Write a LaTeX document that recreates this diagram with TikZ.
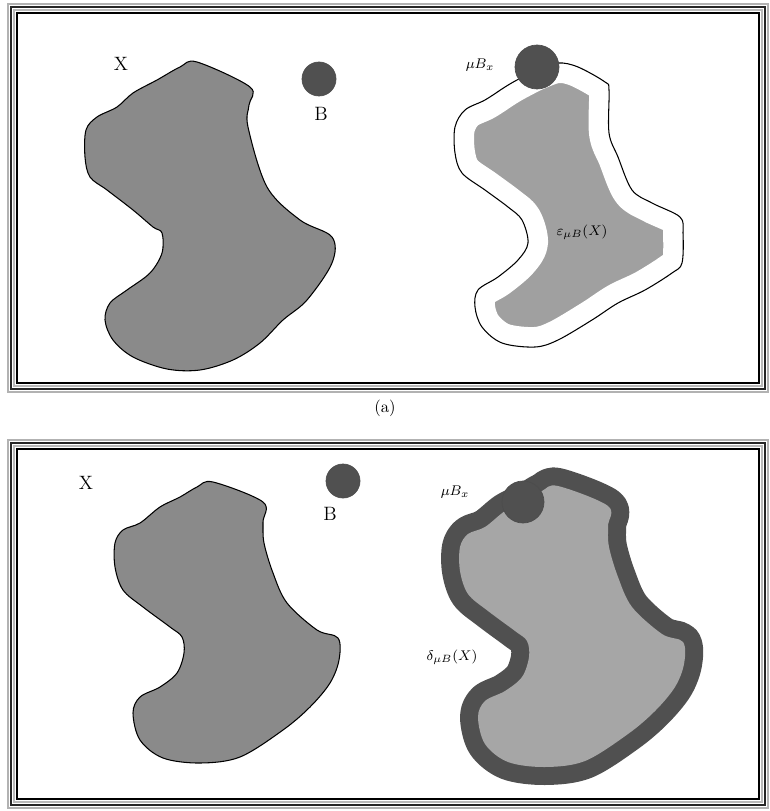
\documentclass[tikz,border=0pt]{standalone}
\usepackage{tikz}
\usetikzlibrary{positioning,calc}
\usepackage{amsmath}
\usepackage{xcolor}

\definecolor{setgray}{RGB}{138,138,138}
\definecolor{ballgray}{RGB}{80,80,80}
\definecolor{erogray}{RGB}{160,160,160}
\definecolor{dilgray}{RGB}{166,166,166}

% outline of X, top panel
\def\shapeXa{(197,62) (250,87) (249,105) (248,127) (267,187) (300,220) (332,237) (332,263) (307,300) (283,320) (260,343) (233,360) (200,370) (167,369) (133,357) (113,340) (105,320) (110,303) (127,290) (150,273) (162,253) (162,233) (153,227) (133,210) (107,190) (90,177) (85,157) (86,130) (97,117) (117,107) (133,93) (157,80) (180,67)}
% outline of X, right of top panel
\def\shapeXb{(558,63) (578,67) (605,82) (609,90) (609,133) (618,157) (632,190) (652,203) (680,217) (683,233) (682,263) (672,273) (645,290) (618,303) (592,320) (558,340) (535,347) (502,343) (482,327) (475,307) (478,290) (498,277) (518,260) (528,243) (522,220) (508,207) (485,190) (462,173) (455,153) (455,127) (465,110) (485,100) (505,87) (517,80) (537,70)}
% outline of X, bottom panel
\def\shapeXc{(213,482) (263,502) (263,522) (264,543) (273,573) (287,603) (317,630) (338,638) (339,660) (330,683) (310,707) (283,730) (240,757) (200,763) (163,758) (140,740) (133,713) (140,697) (160,687) (177,673) (184,653) (182,637) (170,627) (143,607) (123,590) (115,567) (115,543) (123,530) (140,523) (160,507) (180,497) (197,487)}

\begin{document}
\begin{tikzpicture}[
      x=0.02cm, y=-0.02cm,
      setX/.style={fill=setgray, draw=black, line width=0.6pt},
      ball/.style={circle, fill=ballgray, draw=black!70, line width=0.4pt, inner sep=0pt},
      lbl/.style={font=\fontsize{11}{13}\selectfont, inner sep=1pt},
      small/.style={font=\fontsize{8.5}{10}\selectfont, inner sep=1pt},
      frm/.style={line width=2pt}
    ]
    \useasboundingbox (0,0) rectangle (770,811);
    \fill[white] (0,0) rectangle (770,811);

    % frames
    \foreach \ya/\yb in {4/392, 440/808} {
      \draw[gray!60, line width=1.6pt] (8,\ya) rectangle (768,\yb);
      \draw[black!85, line width=1.4pt] (11,\ya+3) rectangle (765,\yb-3);
      \draw[gray!55, line width=1.2pt] (14,\ya+6) rectangle (762,\yb-6);
      \draw[black, line width=0.8pt] (17,\ya+9) rectangle (759,\yb-9);
    }

    %% (a) panel
    \draw[setX] plot[smooth cycle, tension=0.55] coordinates {\shapeXa};
    \node[lbl] (xa) at (121,64) {X};
    \node[ball, minimum size=0.68cm] (ba) at (319,79) {};
    \node[lbl] (bla) at (321,114) {B};

    \begin{scope}
      \clip plot[smooth cycle, tension=0.55] coordinates {\shapeXb};
      \fill[erogray] (440,40) rectangle (700,360);
      \draw[white, line width=0.8cm, line join=round]
        plot[smooth cycle, tension=0.55] coordinates {\shapeXb};
    \end{scope}
    \draw[black, line width=0.6pt] plot[smooth cycle, tension=0.55] coordinates {\shapeXb};
    \node[ball, minimum size=0.88cm] (mba) at (537,67) {};
    \node[small] (mbla) at (480,65) {$\mu B_x$};
    \node[small] (ero) at (582,232) {$\varepsilon_{\mu B}(X)$};

    \node[font=\fontsize{9.5}{11}\selectfont] (capa) at (385,408) {(a)};

    %% bottom panel
    \draw[setX] plot[smooth cycle, tension=0.55] coordinates {\shapeXc};
    \node[lbl] (xc) at (86,483) {X};
    \node[ball, minimum size=0.68cm] (bc) at (343,481) {};
    \node[lbl] (blc) at (330,514) {B};

    \begin{scope}[shift={(345,4)}]
      \draw[ballgray, line width=0.72cm, line join=round]
        plot[smooth cycle, tension=0.55] coordinates {\shapeXc};
      \fill[dilgray] plot[smooth cycle, tension=0.55] coordinates {\shapeXc};
    \end{scope}
    \node[ball, minimum size=0.84cm] (mbc) at (523,502) {};
    \node[small] (mblc) at (455,492) {$\mu B_x$};
    \node[small] (dil) at (452,657) {$\delta_{\mu B}(X)$};
  \end{tikzpicture}
\end{document}
